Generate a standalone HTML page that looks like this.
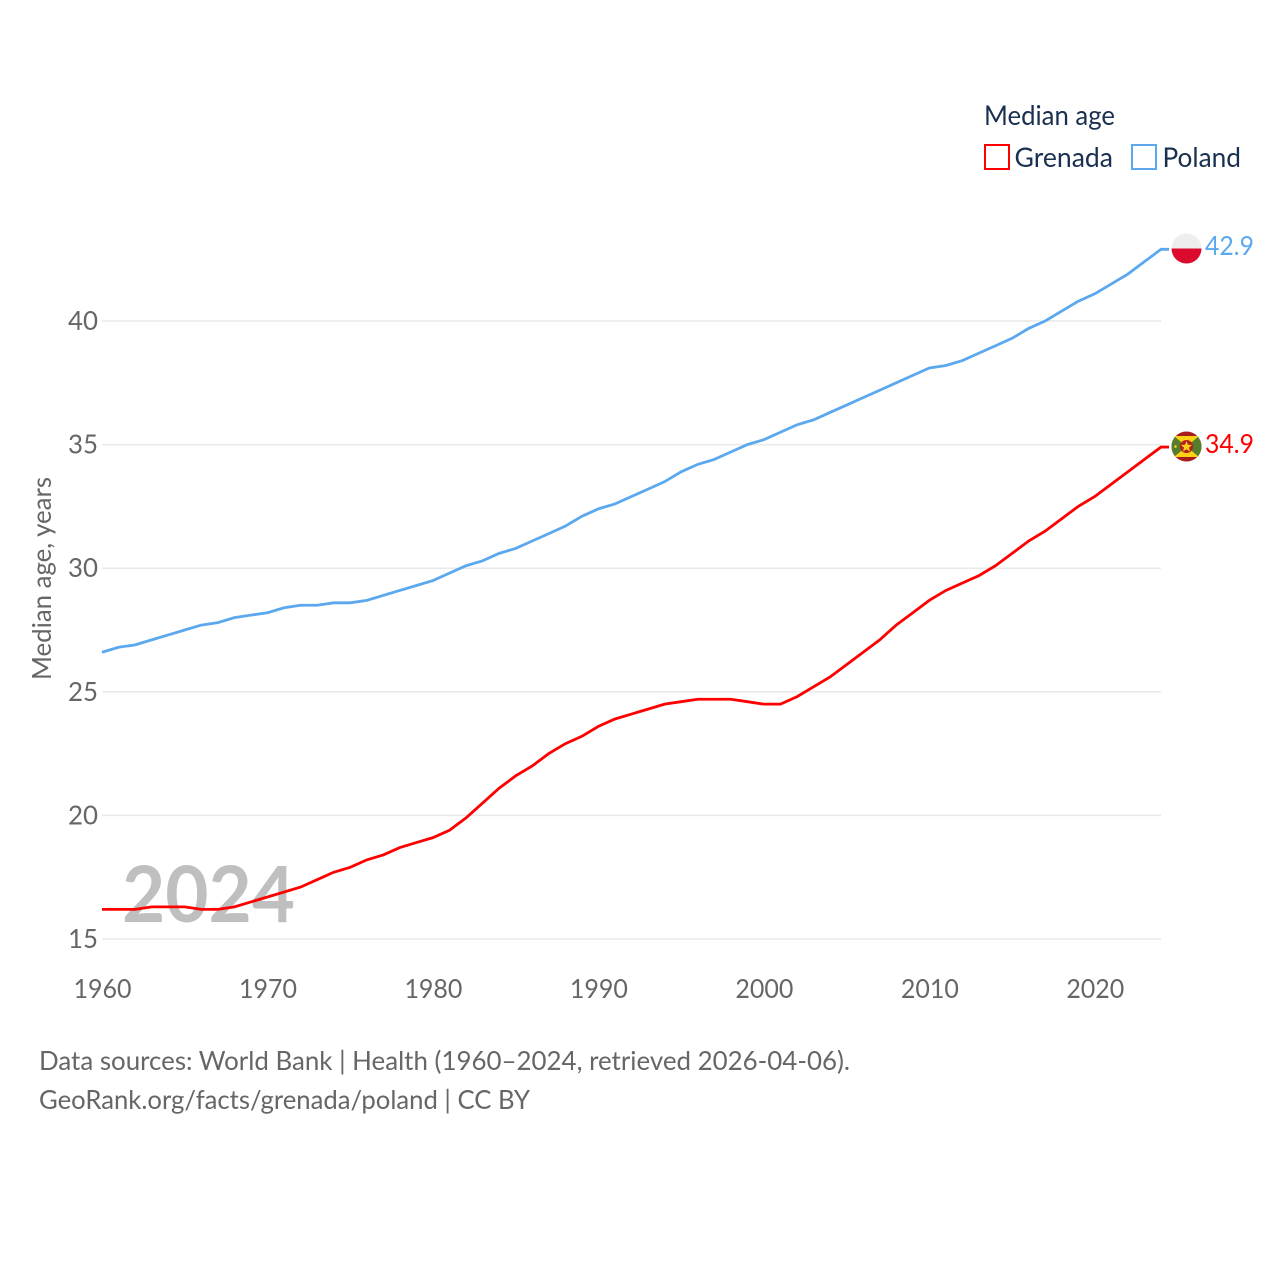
<!DOCTYPE html>
<html><head><meta charset="utf-8">
<style>
html,body{margin:0;padding:0;background:#fff;width:1280px;height:1280px;overflow:hidden}
svg{display:block}
text{font-family:"Lato","Carlito","Liberation Sans",sans-serif}
</style></head>
<body>
<svg id="chart" xmlns="http://www.w3.org/2000/svg" width="1280" height="1280" viewBox="0 0 1280 1280">
<defs>
<clipPath id="pl-clip"><circle cx="1186.500" cy="248.500" r="15"/></clipPath>
<clipPath id="gd-clip"><circle cx="1186.500" cy="446.500" r="15"/></clipPath>
</defs>
<g id="grid"></g>
<g id="ylabels"></g>
<g id="xlabels"></g>
<text x="122" y="922" font-size="78" font-weight="700" fill="#bfbfbf" textLength="173" lengthAdjust="spacingAndGlyphs">2024</text>
<g id="series"></g>
<text transform="translate(51,680) rotate(-90)" font-size="26" fill="#666" textLength="203" lengthAdjust="spacingAndGlyphs">Median age, years</text>

<g>
<text x="984" y="125" font-size="27.500" fill="#1a3050" textLength="131" lengthAdjust="spacingAndGlyphs">Median age</text>
<rect x="985" y="145" width="24" height="24" fill="#fff" stroke="#ff0000" stroke-width="2"/>
<text x="1014.500" y="167" font-size="27.500" fill="#1a3050" textLength="98.500" lengthAdjust="spacingAndGlyphs">Grenada</text>
<rect x="1132" y="145" width="24" height="24" fill="#fff" stroke="#5ba8ee" stroke-width="2"/>
<text x="1162.500" y="167" font-size="27.500" fill="#1a3050" textLength="78.500" lengthAdjust="spacingAndGlyphs">Poland</text>
</g>

<g clip-path="url(#pl-clip)">
<rect x="1171" y="233" width="31" height="15.500" fill="#eeeeee"/>
<rect x="1171" y="248.500" width="31" height="15.500" fill="#dc0a2c"/>
</g>
<g clip-path="url(#gd-clip)">
<rect x="1171" y="431" width="31" height="31" fill="#a81c1c"/>
<rect x="1171" y="436" width="31" height="21" fill="#567d2a"/>
<polygon points="1174,436 1199,436 1186.500,446.500" fill="#fcd116"/>
<polygon points="1174,457 1199,457 1186.500,446.500" fill="#fcd116"/>
<circle cx="1186.500" cy="446.500" r="6.500" fill="#b5201f"/>
<polygon points="1186.500,441 1188,444.800 1192,445 1189,447.600 1190,451.500 1186.500,449.300 1183,451.500 1184,447.600 1181,445 1185,444.800" fill="#fcd116"/>
<circle cx="1175.500" cy="446.500" r="1.300" fill="#fcd116"/>
</g>
<text x="1205" y="255" font-size="26.500" fill="#5ba8ee" textLength="49" lengthAdjust="spacingAndGlyphs">42.9</text>
<text x="1205" y="453" font-size="26.500" fill="#ff0000" textLength="49" lengthAdjust="spacingAndGlyphs">34.9</text>

<text x="39" y="1070" font-size="26.500" fill="#666" textLength="811" lengthAdjust="spacingAndGlyphs">Data sources: World Bank | Health (1960–2024, retrieved 2026-04-06).</text>
<text x="39" y="1109" font-size="26.500" fill="#666" textLength="491" lengthAdjust="spacingAndGlyphs">GeoRank.org/facts/grenada/poland | CC BY</text>
</svg>
<script>
const years = [1960,1961,1962,1963,1964,1965,1966,1967,1968,1969,1970,1971,1972,1973,1974,1975,1976,1977,1978,1979,1980,1981,1982,1983,1984,1985,1986,1987,1988,1989,1990,1991,1992,1993,1994,1995,1996,1997,1998,1999,2000,2001,2002,2003,2004,2005,2006,2007,2008,2009,2010,2011,2012,2013,2014,2015,2016,2017,2018,2019,2020,2021,2022,2023,2024];
const grenadaValues = [16.2,16.2,16.2,16.3,16.3,16.3,16.2,16.2,16.3,16.5,16.7,16.9,17.1,17.4,17.7,17.9,18.2,18.4,18.7,18.9,19.1,19.4,19.9,20.5,21.1,21.6,22.0,22.5,22.9,23.2,23.6,23.9,24.1,24.3,24.5,24.6,24.7,24.7,24.7,24.6,24.5,24.5,24.8,25.2,25.6,26.1,26.6,27.1,27.7,28.2,28.7,29.1,29.4,29.7,30.1,30.6,31.1,31.5,32.0,32.5,32.9,33.4,33.9,34.4,34.9];
const polandValues = [26.6,26.8,26.9,27.1,27.3,27.5,27.7,27.8,28.0,28.1,28.2,28.4,28.5,28.5,28.6,28.6,28.7,28.9,29.1,29.3,29.5,29.8,30.1,30.3,30.6,30.8,31.1,31.4,31.7,32.1,32.4,32.6,32.9,33.2,33.5,33.9,34.2,34.4,34.7,35.0,35.2,35.5,35.8,36.0,36.3,36.6,36.9,37.2,37.5,37.8,38.1,38.2,38.4,38.7,39.0,39.3,39.7,40.0,40.4,40.8,41.1,41.5,41.9,42.4,42.9];
const yTicks = [15,20,25,30,35,40];
const xTicks = [1960,1970,1980,1990,2000,2010,2020];

const NS = 'http://www.w3.org/2000/svg';
const xScale = function (year) { return 102 + (year - 1960) * (1059 / 64); };
const yScale = function (value) { return 939 - (value - 15) * (618 / 25); };

const gridGroup = document.getElementById('grid');
const yLabelGroup = document.getElementById('ylabels');
const xLabelGroup = document.getElementById('xlabels');
const seriesGroup = document.getElementById('series');

yTicks.forEach(function (tick) {
  const line = document.createElementNS(NS, 'line');
  
  
  line.setAttribute('x1', 102);
  line.setAttribute('x2', 1161);
  line.setAttribute('y1', yScale(tick));
  line.setAttribute('y2', yScale(tick));
  line.setAttribute('stroke', '#e9e9e9');
  line.setAttribute('stroke-width', '1.5');
  gridGroup.appendChild(line);

  const label = document.createElementNS(NS, 'text');
  
  
  label.setAttribute('x', 98);
  label.setAttribute('y', yScale(tick) + 9);
  label.setAttribute('text-anchor', 'end');
  label.setAttribute('font-size', '26.5');
  label.setAttribute('fill', '#666');
  label.setAttribute('textLength', '30');
  label.setAttribute('lengthAdjust', 'spacingAndGlyphs');
  label.textContent = tick;
  yLabelGroup.appendChild(label);
});

xTicks.forEach(function (tick) {
  const label = document.createElementNS(NS, 'text');
  
  
  label.setAttribute('x', xScale(tick) + 0.5);
  label.setAttribute('y', 998);
  label.setAttribute('text-anchor', 'middle');
  label.setAttribute('font-size', '26.5');
  label.setAttribute('fill', '#666');
  label.setAttribute('textLength', '58');
  label.setAttribute('lengthAdjust', 'spacingAndGlyphs');
  label.textContent = tick;
  xLabelGroup.appendChild(label);
});

function buildPath(values) {
  let d = '';
  values.forEach(function (value, i) {
    d += (i === 0 ? 'M' : 'L') + xScale(years[i]).toFixed(2) + ' ' + yScale(value).toFixed(2) + ' ';
  });
  return d + 'h8';
}

const polandLine = document.createElementNS(NS, 'path');


polandLine.setAttribute('d', buildPath(polandValues));
polandLine.setAttribute('fill', 'none');
polandLine.setAttribute('stroke', '#5ba8ee');
polandLine.setAttribute('stroke-width', '2.8');
seriesGroup.appendChild(polandLine);

const grenadaLine = document.createElementNS(NS, 'path');


grenadaLine.setAttribute('d', buildPath(grenadaValues));
grenadaLine.setAttribute('fill', 'none');
grenadaLine.setAttribute('stroke', '#ff0000');
grenadaLine.setAttribute('stroke-width', '2.8');
seriesGroup.appendChild(grenadaLine);
</script>
</body></html>
